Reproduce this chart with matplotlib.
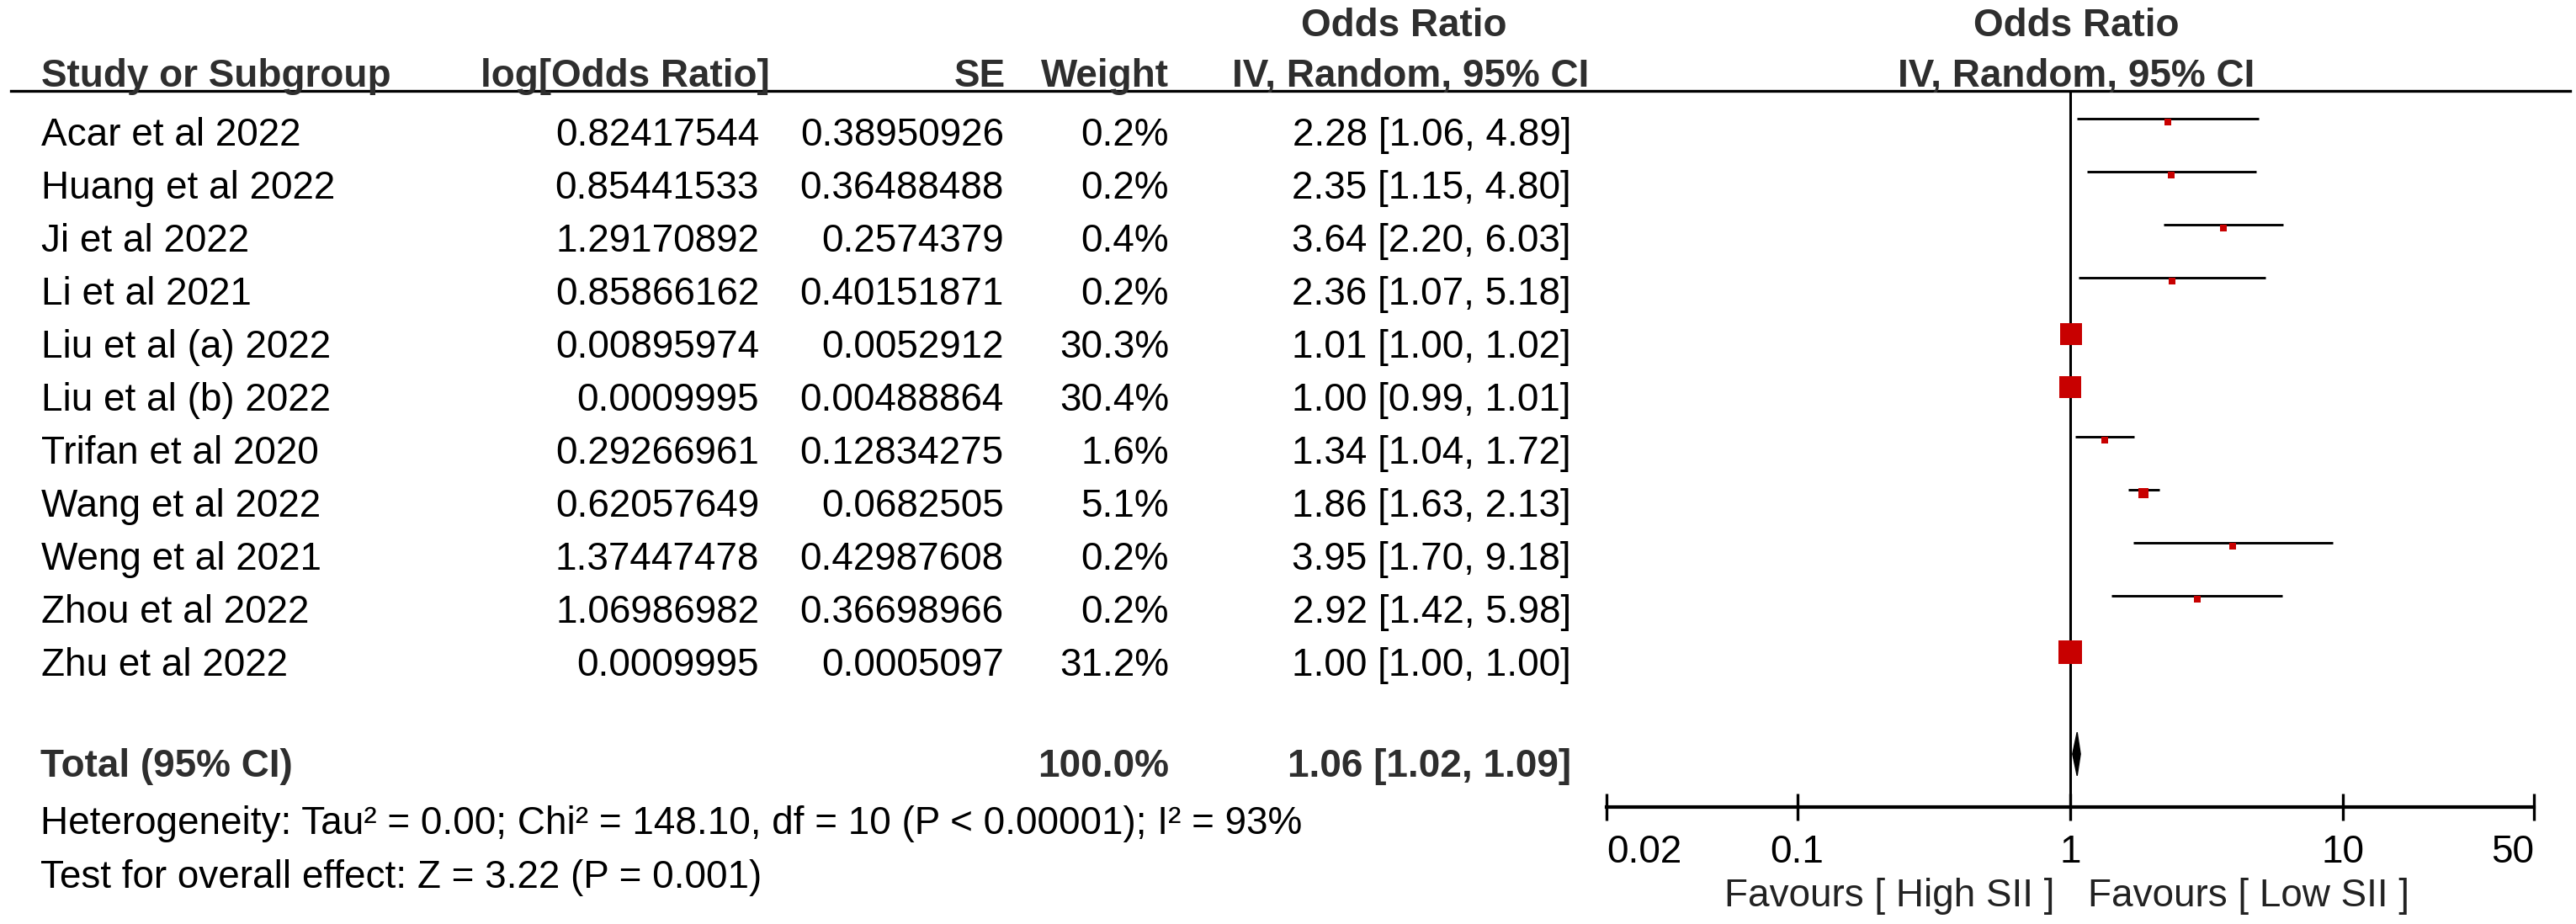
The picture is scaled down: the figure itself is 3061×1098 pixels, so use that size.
import matplotlib

matplotlib.use("Agg")
import matplotlib.pyplot as plt
import numpy as np
from matplotlib.lines import Line2D
from matplotlib.patches import Polygon
from matplotlib.ticker import NullLocator
from matplotlib.transforms import blended_transform_factory, offset_copy

# ---- data ----
studies = [
    "Acar et al 2022", "Huang et al 2022", "Ji et al 2022", "Li et al 2021",
    "Liu et al (a) 2022", "Liu et al (b) 2022", "Trifan et al 2020",
    "Wang et al 2022", "Weng et al 2021", "Zhou et al 2022", "Zhu et al 2022",
]
log_or_text = [
    "0.82417544", "0.85441533", "1.29170892", "0.85866162", "0.00895974",
    "0.0009995", "0.29266961", "0.62057649", "1.37447478", "1.06986982", "0.0009995",
]
se_text = [
    "0.38950926", "0.36488488", "0.2574379", "0.40151871", "0.0052912",
    "0.00488864", "0.12834275", "0.0682505", "0.42987608", "0.36698966", "0.0005097",
]
weights = [0.2, 0.2, 0.4, 0.2, 30.3, 30.4, 1.6, 5.1, 0.2, 0.2, 31.2]
or_est = [2.28, 2.35, 3.64, 2.36, 1.01, 1.00, 1.34, 1.86, 3.95, 2.92, 1.00]
ci_low = [1.06, 1.15, 2.20, 1.07, 1.00, 0.99, 1.04, 1.63, 1.70, 1.42, 1.00]
ci_high = [4.89, 4.80, 6.03, 5.18, 1.02, 1.01, 1.72, 2.13, 9.18, 5.98, 1.00]

total_weight = 100.0
total_or, total_low, total_high = 1.06, 1.02, 1.09

axis_ticks = [0.02, 0.1, 1, 10, 50]
tick_labels = ["0.02", "0.1", "1", "10", "50"]

heterogeneity = "Heterogeneity: Tau² = 0.00; Chi² = 148.10, df = 10 (P < 0.00001); I² = 93%"
overall_effect = "Test for overall effect: Z = 3.22 (P = 0.001)"
favours_left = "Favours [ High SII ]"
favours_right = "Favours [ Low SII ]"

# ---- style ----
plt.rcParams["font.family"] = ["Liberation Sans", "DejaVu Sans"]
FS = 33
HEAD = "#2e2e2e"
RED = "#c80000"

W, H = 3061, 1098
fig = plt.figure(figsize=(W / 100, H / 100), dpi=100)
fig.patch.set_facecolor("white")

# forest panel: x from 0.02 to 50, y in row units (row i = CI line of study i)
ax = fig.add_axes([1909 / W, 1 - 959 / H, (3011 - 1909) / W, (959 - 108) / H])
ax.set_xscale("log")
ax.set_xlim(axis_ticks[0], axis_ticks[-1])
ax.set_ylim(12.98, -0.524)
ax.patch.set_visible(False)
for side in ("top", "left", "right"):
    ax.spines[side].set_visible(False)
ax.spines["bottom"].set_linewidth(3.0)
ax.set_xticks(axis_ticks)
ax.xaxis.set_minor_locator(NullLocator())
ax.set_xticklabels([])
ax.tick_params(axis="x", direction="inout", length=23, width=2.4, color="black")
ax.tick_params(axis="y", left=False, labelleft=False)

bt = blended_transform_factory(fig.transFigure, ax.transData)

rows = np.arange(len(studies))
TEXT_DY = 0.51  # baseline of table text relative to the CI line

# header
fig.add_artist(Line2D([13 / W, 3054 / W], [-0.524, -0.524], transform=bt,
                      color="black", lw=2.4))
head_kw = dict(fontsize=FS, fontweight="bold", color=HEAD, va="baseline", transform=bt)
fig.text(0.5449, -1.56, "Odds Ratio", ha="center", **head_kw)
fig.text(0.8060, -1.56, "Odds Ratio", ha="center", **head_kw)
fig.text(0.0160, -0.60, "Study or Subgroup", ha="left", **head_kw)
fig.text(0.2989, -0.60, "log[Odds Ratio]", ha="right", **head_kw)
fig.text(0.3904, -0.60, "SE", ha="right", **head_kw)
fig.text(0.4538, -0.60, "Weight", ha="right", **head_kw)
fig.text(0.6168, -0.60, "IV, Random, 95% CI", ha="right", **head_kw)
fig.text(0.8060, -0.60, "IV, Random, 95% CI", ha="center", **head_kw)

# study rows
row_kw = dict(fontsize=FS, color="black", va="baseline", transform=bt)
for i, name in enumerate(studies):
    y = rows[i] + TEXT_DY
    fig.text(0.0160, y, name, ha="left", **row_kw)
    fig.text(0.2947, y, log_or_text[i], ha="right", **row_kw)
    fig.text(0.3897, y, se_text[i], ha="right", **row_kw)
    fig.text(0.4538, y, f"{weights[i]:.1f}%", ha="right", **row_kw)
    fig.text(0.6099, y, f"{or_est[i]:.2f} [{ci_low[i]:.2f}, {ci_high[i]:.2f}]",
             ha="right", **row_kw)

# null line
ax.axvline(1, color="black", lw=2.2, zorder=1)

# CI lines and weighted boxes
for i in range(len(studies)):
    ax.plot([ci_low[i], ci_high[i]], [rows[i], rows[i]], color="black", lw=2.1,
            solid_capstyle="butt", zorder=2)
    side_px = max(8.0, 27.0 * np.sqrt(weights[i] / 30.4))
    ax.plot(or_est[i], rows[i] + 0.06, marker="s", ms=side_px * 0.72, color=RED,
            mec=RED, mew=0, linestyle="none", zorder=3)

# total row
total_y = 11.98
fig.text(0.0157, 12.41, "Total (95% CI)", ha="left", **head_kw)
fig.text(0.4538, 12.41, f"{total_weight:.1f}%", ha="right", **head_kw)
fig.text(0.6099, 12.41, f"{total_or:.2f} [{total_low:.2f}, {total_high:.2f}]",
         ha="right", **head_kw)
half = 0.41
ax.add_patch(Polygon([(total_low, total_y), (total_or, total_y - half),
                      (total_high, total_y), (total_or, total_y + half)],
                     closed=True, facecolor="black", edgecolor="black", lw=1, zorder=3))

fig.text(0.0157, 13.48, heterogeneity, ha="left", **row_kw)
fig.text(0.0157, 14.51, overall_effect, ha="left", **row_kw)

# axis tick labels
for val, lab in zip(axis_ticks, tick_labels):
    ha = "left" if val == axis_ticks[0] else ("right" if val == axis_ticks[-1] else "center")
    ax.text(val, 14.03, lab, ha=ha, va="baseline", fontsize=FS, color="black",
            clip_on=False)

# favours labels
ax.text(1, 14.86, favours_left, ha="right", va="baseline", fontsize=FS, color="#222222",
        transform=offset_copy(ax.transData, fig=fig, x=-13.7, y=0, units="points"),
        clip_on=False)
ax.text(1, 14.86, favours_right, ha="left", va="baseline", fontsize=FS, color="#222222",
        transform=offset_copy(ax.transData, fig=fig, x=15, y=0, units="points"),
        clip_on=False)

fig.savefig("out.png", dpi=100, facecolor="white")
